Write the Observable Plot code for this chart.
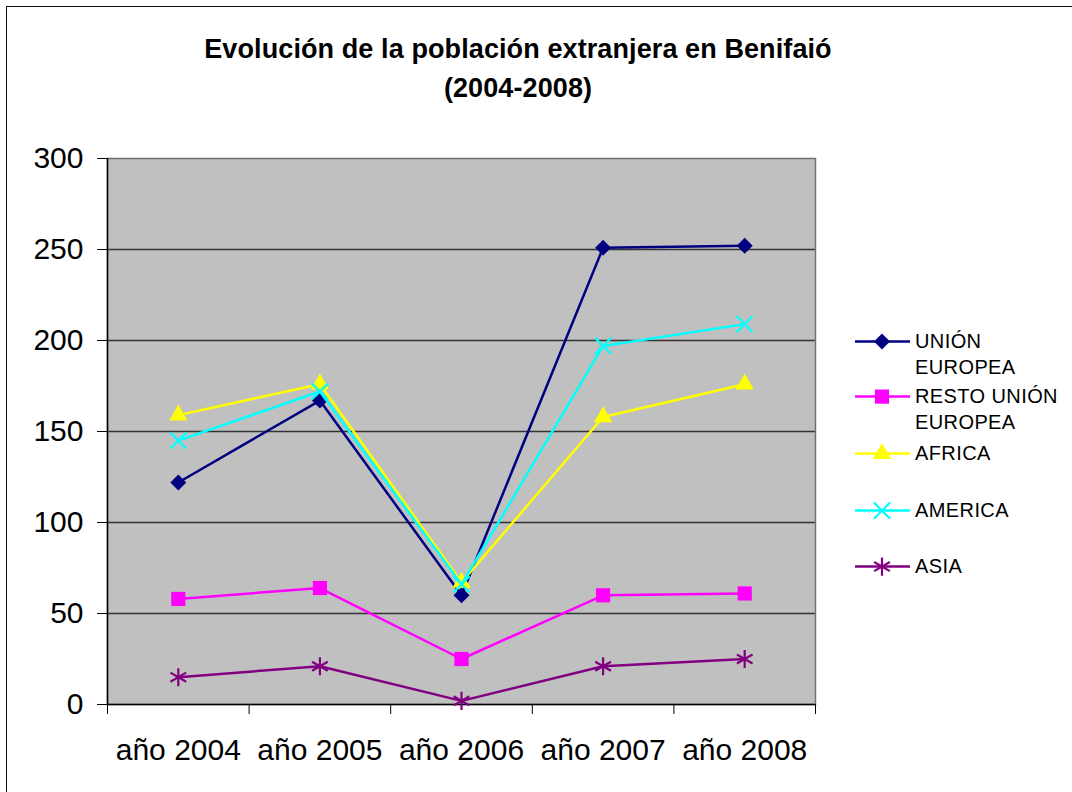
<!DOCTYPE html>
<html>
<head>
<meta charset="utf-8">
<script src="https://cdn.jsdelivr.net/npm/d3@7"></script>
<script src="https://cdn.jsdelivr.net/npm/@observablehq/plot@0.6"></script>
<style>
  html, body { margin: 0; padding: 0; background: #fff; }
  body { width: 1072px; height: 792px; position: relative; overflow: hidden;
         font-family: "Liberation Sans", Arial, sans-serif; }
  #frame { position: absolute; left: 6px; top: 6px; width: 1200px; height: 900px;
           border: 1.5px solid #111; box-sizing: border-box; pointer-events: none; }
  #title { position: absolute; left: 0; top: 30px; width: 1036px; text-align: center;
           font-weight: bold; font-size: 27px; line-height: 39px; color: #000; letter-spacing: 0.1px; }
  #chart { position: absolute; left: 0; top: 0; }
  .leg { position: absolute; left: 855px; }
  .leg svg { position: absolute; left: 0; top: 0; }
  .leg .lab { position: absolute; left: 60px; top: 0; width: 160px; font-size: 20px;
              line-height: 25.5px; color: #000; letter-spacing: 0.4px; }
</style>
</head>
<body>
<div id="chart"></div>
<div id="title">Evolución de la población extranjera en Benifaió<br>(2004-2008)</div>
<div id="legend"></div>
<div id="frame"></div>
<script>
// ---- data ----
const years = ["año 2004", "año 2005", "año 2006", "año 2007", "año 2008"];
const seriesNames = ["UNIÓN EUROPEA", "RESTO UNIÓN EUROPEA", "AFRICA", "AMERICA", "ASIA"];
const unionEuropea = [122, 167, 60, 251, 252];
const restoUnionEuropea = [58, 64, 25, 60, 61];
const africa = [159, 176, 67, 158, 176];
const america = [145, 172, 66, 197, 209];
const asia = [15, 21, 2, 21, 25];
const yTicks = [0, 50, 100, 150, 200, 250, 300];
const legendLabels = ["UNIÓN\nEUROPEA", "RESTO UNIÓN\nEUROPEA", "AFRICA", "AMERICA", "ASIA"];

// ---- styles ----
const colors = ["#000080", "#FF00FF", "#FFFF00", "#00FFFF", "#800080"];
const symbols = ["diamond2", "square", "triangle", "times", "asterisk"];
const d3Symbols = [d3.symbolDiamond2, d3.symbolSquare, d3.symbolTriangle, d3.symbolTimes, d3.symbolAsterisk];
const filled = [true, true, true, false, false];
const radii = [7.2, 8, 6.8, 7.4, 8.6];

const values = [unionEuropea, restoUnionEuropea, africa, america, asia];
const rows = seriesNames.flatMap((s, k) => values[k].map((v, i) => ({series: s, i, year: years[i], value: v})));

const boundaries = d3.range(years.length + 1).map(i => i - 0.5);

const seriesMarks = seriesNames.flatMap((s, k) => {
  const data = rows.filter(d => d.series === s);
  return [
    Plot.line(data, {x: "i", y: "value", stroke: colors[k], strokeWidth: 2.5}),
    Plot.dot(data, {x: "i", y: "value", symbol: symbols[k], r: radii[k],
      fill: filled[k] ? colors[k] : "none",
      stroke: filled[k] ? "none" : colors[k], strokeWidth: 2.2})
  ];
});

const chart = Plot.plot({
  width: 1072,
  height: 792,
  marginLeft: 107,
  marginRight: 257,
  marginTop: 158,
  marginBottom: 88,
  x: {domain: [boundaries[0], boundaries[boundaries.length - 1]]},
  y: {domain: [yTicks[0], yTicks[yTicks.length - 1]]},
  style: {fontFamily: "'Liberation Sans', Arial, sans-serif", fontSize: "30px", background: "transparent", color: "#000"},
  marks: [
    Plot.frame({fill: "#C0C0C0", stroke: "none"}),
    Plot.ruleY(yTicks.slice(1, -1), {stroke: "#333", strokeWidth: 1.3}),
    Plot.frame({stroke: "#707070", strokeWidth: 1.5}),
    Plot.axisY({ticks: yTicks, tickSize: 10, tickPadding: 14, label: null, tickFormat: d => String(d)}),
    Plot.ruleX([boundaries[0]], {stroke: "#000", strokeWidth: 1.5}),
    Plot.ruleY([yTicks[0]], {stroke: "#000", strokeWidth: 1.5}),
    Plot.axisX({ticks: boundaries, tickSize: 10, tickFormat: () => "", label: null}),
    Plot.axisX({ticks: d3.range(years.length), tickSize: 0, tickPadding: 34, tickFormat: i => years[i], label: null}),
    ...seriesMarks
  ]
});
document.getElementById("chart").appendChild(chart);

// ---- legend ----
const legendCenters = [342, 397, 454, 510.7, 566.7];
const legend = d3.select("#legend");
seriesNames.forEach((s, k) => {
  const lh = 25.5;
  const top = legendCenters[k] - 12.6;
  const g = legend.append("div").attr("class", "leg").style("top", top + "px");
  const svg = g.append("svg").attr("width", 58).attr("height", lh);
  svg.append("line").attr("x1", 0).attr("x2", 55).attr("y1", 12.6).attr("y2", 12.6)
    .attr("stroke", colors[k]).attr("stroke-width", 2.5);
  svg.append("path")
    .attr("d", d3.symbol(d3Symbols[k], Math.PI * radii[k] * radii[k])())
    .attr("transform", `translate(27,12.6)`)
    .attr("fill", filled[k] ? colors[k] : "none")
    .attr("stroke", filled[k] ? "none" : colors[k])
    .attr("stroke-width", 2.2);
  g.append("div").attr("class", "lab").style("white-space", "pre-line").text(legendLabels[k]);
});
</script>
</body>
</html>
